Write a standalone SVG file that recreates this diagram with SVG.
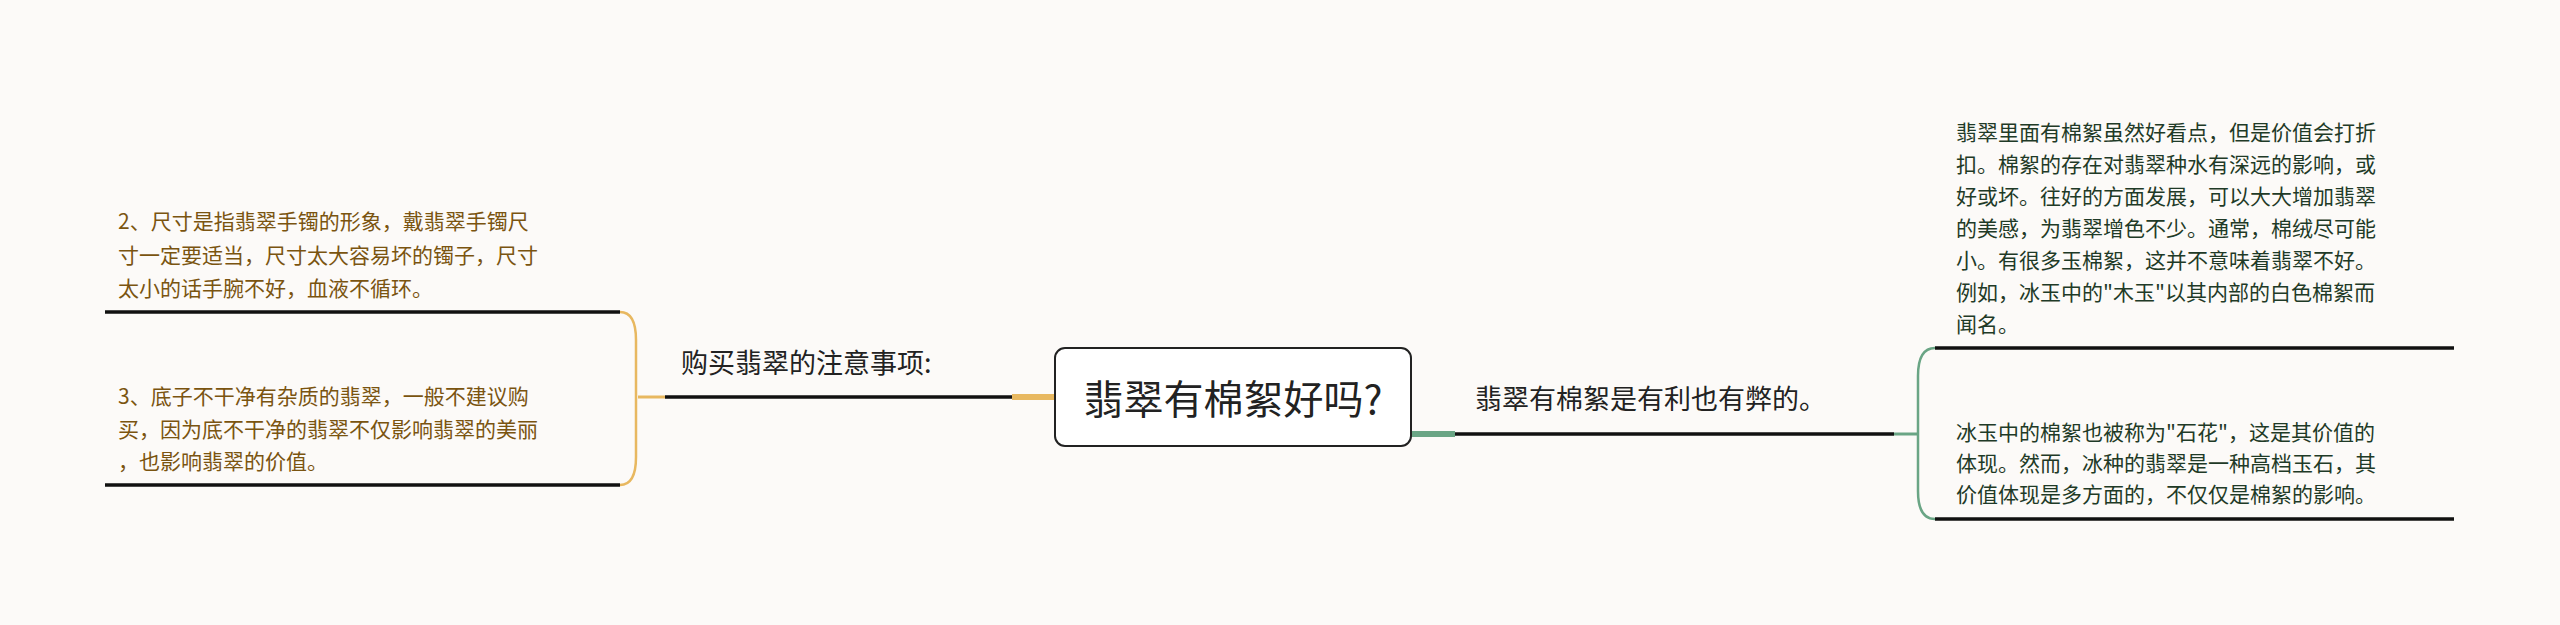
<svg xmlns="http://www.w3.org/2000/svg" width="2560" height="625" viewBox="0 0 2560 625">
<style>
text{font-family:"Noto Sans CJK SC","Noto Sans",sans-serif;dominant-baseline:central}
.lo{fill:#7a5410;font-size:21px}
.ro{fill:#1f3a27;font-size:21px}
.lab{fill:#222;font-size:27px}
.ul{stroke:#111;stroke-width:3.5;fill:none}
</style>
<rect width="2560" height="625" fill="#fcfaf8"/>
<g id="connectors" fill="none">
<path d="M1055 397H1012" stroke="#e8b860" stroke-width="6"/>
<path d="M1012 397H665" class="ul"/>
<path d="M665 397H638" stroke="#e8b860" stroke-width="3"/>
<path d="M620 312Q636 312 636 340V457Q636 485 620 485" stroke="#e8b860" stroke-width="2.5"/>
<path d="M1411 434H1455" stroke="#6aa585" stroke-width="6"/>
<path d="M1455 434H1894" class="ul"/>
<path d="M1894 434H1918" stroke="#6aa585" stroke-width="3"/>
<path d="M1935 348Q1918 348 1918 376V491Q1918 519 1935 519" stroke="#6aa585" stroke-width="2.5"/>
</g>
<g id="root">
<rect x="1055" y="348" width="356" height="98" rx="10" fill="#fff" stroke="#222" stroke-width="2"/>
<text x="1233" y="397" text-anchor="middle" font-size="40" fill="#222">翡翠有棉絮好吗?</text>
</g>
<g id="left-label"><text class="lab" x="681" y="361">购买翡翠的注意事项:</text></g>
<g id="left-leaf1">
<text class="lo" x="118" y="220">2、尺寸是指翡翠手镯的形象，戴翡翠手镯尺</text>
<text class="lo" x="118" y="254">寸一定要适当，尺寸太大容易坏的镯子，尺寸</text>
<text class="lo" x="118" y="287">太小的话手腕不好，血液不循环。</text>
<path class="ul" d="M105 312H620"/>
</g>
<g id="left-leaf2">
<text class="lo" x="118" y="395">3、底子不干净有杂质的翡翠，一般不建议购</text>
<text class="lo" x="118" y="428">买，因为底不干净的翡翠不仅影响翡翠的美丽</text>
<text class="lo" x="118" y="460">，也影响翡翠的价值。</text>
<path class="ul" d="M105 485H620"/>
</g>
<g id="right-label"><text class="lab" x="1475" y="397">翡翠有棉絮是有利也有弊的。</text></g>
<g id="right-leaf1">
<text class="ro" x="1956" y="131">翡翠里面有棉絮虽然好看点，但是价值会打折</text>
<text class="ro" x="1956" y="163">扣。棉絮的存在对翡翠种水有深远的影响，或</text>
<text class="ro" x="1956" y="195">好或坏。往好的方面发展，可以大大增加翡翠</text>
<text class="ro" x="1956" y="227">的美感，为翡翠增色不少。通常，棉绒尽可能</text>
<text class="ro" x="1956" y="259">小。有很多玉棉絮，这并不意味着翡翠不好。</text>
<text class="ro" x="1956" y="291">例如，冰玉中的"木玉"以其内部的白色棉絮而</text>
<text class="ro" x="1956" y="323">闻名。</text>
<path class="ul" d="M1935 348H2454"/>
</g>
<g id="right-leaf2">
<text class="ro" x="1956" y="431">冰玉中的棉絮也被称为"石花"，这是其价值的</text>
<text class="ro" x="1956" y="462">体现。然而，冰种的翡翠是一种高档玉石，其</text>
<text class="ro" x="1956" y="493">价值体现是多方面的，不仅仅是棉絮的影响。</text>
<path class="ul" d="M1935 519H2454"/>
</g>
</svg>
